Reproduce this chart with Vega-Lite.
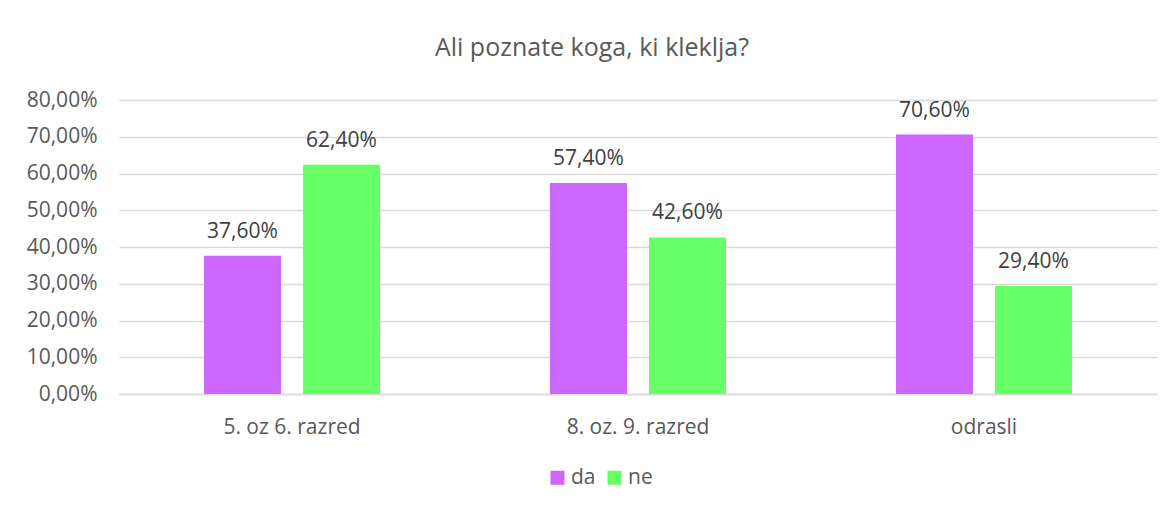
{
  "$schema": "https://vega.github.io/schema/vega-lite/v6.json",
  "width": 1038,
  "height": 294,
  "autosize": {"type": "none"},
  "padding": {"left": 119, "top": 100, "right": 16, "bottom": 114},
  "background": "white",
  "config": {
    "locale": {"number": {"decimal": ",", "thousands": ".", "grouping": [3], "currency": ["", " €"]}},
    "view": {"stroke": null},
    "font": "Open Sans"
  },
  "title": {
    "text": "Ali poznate koga, ki kleklja?",
    "fontSize": 25,
    "font": "Open Sans",
    "fontWeight": "normal",
    "color": "#595959",
    "anchor": "middle",
    "dx": -46,
    "offset": 28
  },
  "data": {
    "values": [
      {"group": "5. oz 6. razred", "answer": "da", "value": 0.376},
      {"group": "5. oz 6. razred", "answer": "ne", "value": 0.624},
      {"group": "8. oz. 9. razred", "answer": "da", "value": 0.574},
      {"group": "8. oz. 9. razred", "answer": "ne", "value": 0.426},
      {"group": "odrasli", "answer": "da", "value": 0.706},
      {"group": "odrasli", "answer": "ne", "value": 0.294}
    ]
  },
  "encoding": {
    "x": {
      "field": "group",
      "type": "nominal",
      "sort": null,
      "scale": {"paddingInner": 0, "paddingOuter": 0},
      "axis": {
        "title": null,
        "labelAngle": 0,
        "ticks": false,
        "labelBaseline": "alphabetic",
        "labelPadding": 39,
        "labelFontSize": 21,
        "labelColor": "#595959",
        "domainColor": "#d9d9d9",
        "domainWidth": 1.5
      }
    },
    "xOffset": {
      "field": "answer",
      "type": "nominal",
      "scale": {"paddingInner": 0.222, "paddingOuter": 0.859}
    },
    "y": {
      "field": "value",
      "type": "quantitative",
      "scale": {"domain": [0, 0.8], "nice": false},
      "axis": {
        "title": null,
        "values": [0, 0.1, 0.2, 0.3, 0.4, 0.5, 0.6, 0.7, 0.8],
        "format": ".2%",
        "ticks": false,
        "domain": false,
        "labelPadding": 22,
        "labelFontSize": 21,
        "labelColor": "#595959",
        "gridColor": "#d9d9d9",
        "gridWidth": 1.5
      }
    }
  },
  "layer": [
    {
      "mark": {"type": "bar"},
      "encoding": {
        "color": {
          "field": "answer",
          "type": "nominal",
          "scale": {"domain": ["da", "ne"], "range": ["#CC66FF", "#66FF66"]},
          "legend": {
            "title": null,
            "orient": "none",
            "direction": "horizontal",
            "legendX": 428,
            "legendY": 367,
            "symbolType": "square",
            "symbolSize": 196,
            "symbolStrokeWidth": 0,
            "labelFontSize": 21,
            "labelColor": "#595959",
            "columnPadding": 8,
            "labelOffset": 3
          }
        }
      }
    },
    {
      "mark": {"type": "text", "baseline": "alphabetic", "dy": -18, "fontSize": 21, "color": "#404040"},
      "encoding": {
        "text": {"field": "value", "type": "quantitative", "format": ".2%"}
      }
    }
  ]
}
